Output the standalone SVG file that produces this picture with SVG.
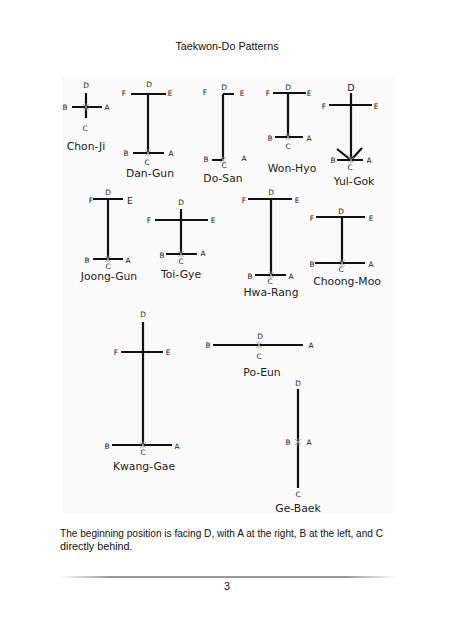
<svg xmlns="http://www.w3.org/2000/svg" xmlns:xlink="http://www.w3.org/1999/xlink" width="454" height="640" viewBox="0 0 454 640">
<style>
.ln{stroke:#111;stroke-width:2.2;fill:none;stroke-linecap:butt}
.l{font-family:"DejaVu Sans",sans-serif;font-size:7.4px;fill:#222;text-anchor:middle}
.lb{font-family:"DejaVu Sans",sans-serif;font-size:9.5px;fill:#222;text-anchor:middle}
.n{font-family:"DejaVu Sans",sans-serif;font-size:10.8px;fill:#222;text-anchor:middle}
.t{font-family:"Liberation Sans",sans-serif;font-size:10.8px;fill:#111}
.x{stroke:#999;stroke-width:0.8;fill:none}
</style>
<defs>
<path id="xm" class="x" d="M-3,-3 L3,3 M3,-3 L-3,3 M0,-3.5 V3.5"/>
<linearGradient id="fl" x1="0" x2="1" y1="0" y2="0">
<stop offset="0" stop-color="#333" stop-opacity="0"/>
<stop offset="0.15" stop-color="#333"/>
<stop offset="0.85" stop-color="#333"/>
<stop offset="1" stop-color="#333" stop-opacity="0"/>
</linearGradient>
</defs>
<rect width="454" height="640" fill="#fff"/>
<text class="t" x="227" y="49.5" text-anchor="middle">Taekwon-Do Patterns</text>
<rect x="62" y="77" width="333" height="436" fill="#fafafa"/>

<g id="chon-ji">
<path class="ln" d="M86,93 V118 M72,107 H102"/>
<use href="#xm" x="86" y="107"/>
<text class="l" x="86" y="87.5">D</text>
<text class="l" x="65" y="109.5">B</text>
<text class="l" x="107" y="109.5">A</text>
<text class="l" x="85" y="130.5">C</text>
<text class="n" x="86" y="150">Chon-Ji</text>
</g>

<g id="dan-gun">
<path class="ln" d="M131,94 H166 M148,94 V153 M133,153 H164"/>
<use href="#xm" x="148" y="153"/>
<text class="l" x="124" y="95.5">F</text>
<text class="l" x="149" y="86.5">D</text>
<text class="l" x="170" y="95.5">E</text>
<text class="l" x="126" y="155.5">B</text>
<text class="l" x="171" y="155.5">A</text>
<text class="l" x="147" y="164.5">C</text>
<text class="n" x="150" y="177">Dan-Gun</text>
</g>

<g id="do-san">
<path class="ln" d="M223,94 H234 M223,94 V160 M212,160 H223"/>
<use href="#xm" x="223" y="160"/>
<text class="l" x="205" y="94.5">F</text>
<text class="l" x="224" y="89.5">D</text>
<text class="l" x="242" y="95.5">E</text>
<text class="l" x="206" y="161.5">B</text>
<text class="l" x="244" y="160.5">A</text>
<text class="l" x="224" y="167.5">C</text>
<text class="n" x="223" y="182">Do-San</text>
</g>

<g id="won-hyo">
<path class="ln" d="M273,93 H306 M288,93 V137 M275,137 H303"/>
<use href="#xm" x="288" y="137"/>
<text class="l" x="268" y="95.5">F</text>
<text class="l" x="288" y="89.5">D</text>
<text class="l" x="309" y="95.5">E</text>
<text class="l" x="270" y="140.5">B</text>
<text class="l" x="309" y="140.5">A</text>
<text class="l" x="288" y="148.5">C</text>
<text class="n" x="292" y="172">Won-Hyo</text>
</g>

<g id="yul-gok">
<path class="ln" d="M329,105 H372 M351,93 V160 M337,160 H363 M337,149 L351,160 L362,148"/>
<use href="#xm" x="351" y="160"/>
<text class="lb" x="351" y="90.5">D</text>
<text class="l" x="324" y="108.5">F</text>
<text class="l" x="376" y="108.5">E</text>
<text class="l" x="333" y="162.5">B</text>
<text class="l" x="369" y="162.5">A</text>
<text class="l" x="350" y="170">C</text>
<text class="n" x="354" y="185">Yul-Gok</text>
</g>

<g id="joong-gun">
<path class="ln" d="M93,199 H123 M108,199 V259 M93,259 H123"/>
<use href="#xm" x="108" y="259"/>
<text class="l" x="91" y="202.5">F</text>
<text class="l" x="108" y="194.5">D</text>
<text class="lb" x="130" y="203.5">E</text>
<text class="l" x="87" y="262.5">B</text>
<text class="l" x="128" y="262.5">A</text>
<text class="l" x="108" y="268.5">C</text>
<text class="n" x="109" y="279.5">Joong-Gun</text>
</g>

<g id="toi-gye">
<path class="ln" d="M155,220 H208 M181,209 V254 M166,254 H197"/>
<use href="#xm" x="181" y="254"/>
<text class="l" x="181" y="204.5">D</text>
<text class="l" x="149" y="222.5">F</text>
<text class="l" x="213" y="222.5">E</text>
<text class="l" x="162" y="257.5">B</text>
<text class="l" x="203" y="255.5">A</text>
<text class="l" x="181" y="263.5">C</text>
<text class="n" x="181" y="277.5">Toi-Gye</text>
</g>

<g id="hwa-rang">
<path class="ln" d="M248,199 H292 M271,199 V275 M255,275 H286"/>
<use href="#xm" x="271" y="275"/>
<text class="l" x="244" y="202.5">F</text>
<text class="l" x="271" y="194.5">D</text>
<text class="l" x="297" y="202.5">E</text>
<text class="l" x="250" y="278.5">B</text>
<text class="l" x="291" y="278.5">A</text>
<text class="l" x="270" y="284">C</text>
<text class="n" x="271" y="295.5">Hwa-Rang</text>
</g>

<g id="choong-moo">
<path class="ln" d="M316,217 H365 M342,217 V263 M315,263 H365"/>
<use href="#xm" x="342" y="263"/>
<text class="l" x="312" y="220.5">F</text>
<text class="l" x="341" y="213.5">D</text>
<text class="l" x="371" y="220.5">E</text>
<text class="l" x="312" y="266.5">B</text>
<text class="l" x="371" y="266.5">A</text>
<text class="l" x="341" y="272.3">C</text>
<text class="n" x="347" y="284.5">Choong-Moo</text>
</g>

<g id="kwang-gae">
<path class="ln" d="M143,322 V445 M121,352 H163 M112,445 H172"/>
<use href="#xm" x="143" y="445"/>
<text class="l" x="143" y="316.5">D</text>
<text class="l" x="116" y="354.5">F</text>
<text class="l" x="168" y="354.5">E</text>
<text class="l" x="107" y="448.5">B</text>
<text class="l" x="177" y="448.5">A</text>
<text class="l" x="143" y="454.5">C</text>
<text class="n" x="144" y="469.5">Kwang-Gae</text>
</g>

<g id="po-eun">
<path class="ln" d="M213,345 H303"/>
<use href="#xm" x="259" y="345"/>
<text class="l" x="208" y="347.5">B</text>
<text class="l" x="311" y="347.5">A</text>
<text class="l" x="260" y="338.5">D</text>
<text class="l" x="259" y="358.5">C</text>
<text class="n" x="262" y="376">Po-Eun</text>
</g>

<g id="ge-baek">
<path class="ln" d="M298,389 V488"/>
<use href="#xm" x="298" y="442"/>
<text class="l" x="298" y="385.5">D</text>
<text class="l" x="288" y="444.5">B</text>
<text class="l" x="309" y="444.5">A</text>
<text class="l" x="298" y="496.5">C</text>
<text class="n" x="298" y="512">Ge-Baek</text>
</g>

<text class="t" x="60" y="537" textLength="323" lengthAdjust="spacingAndGlyphs">The beginning position is facing D, with A at the right, B at the left, and C</text>
<text class="t" x="60" y="549.5">directly behind.</text>
<rect x="60" y="576.5" width="336" height="1" fill="url(#fl)"/>
<text class="t" x="227" y="589.5" text-anchor="middle">3</text>
</svg>
